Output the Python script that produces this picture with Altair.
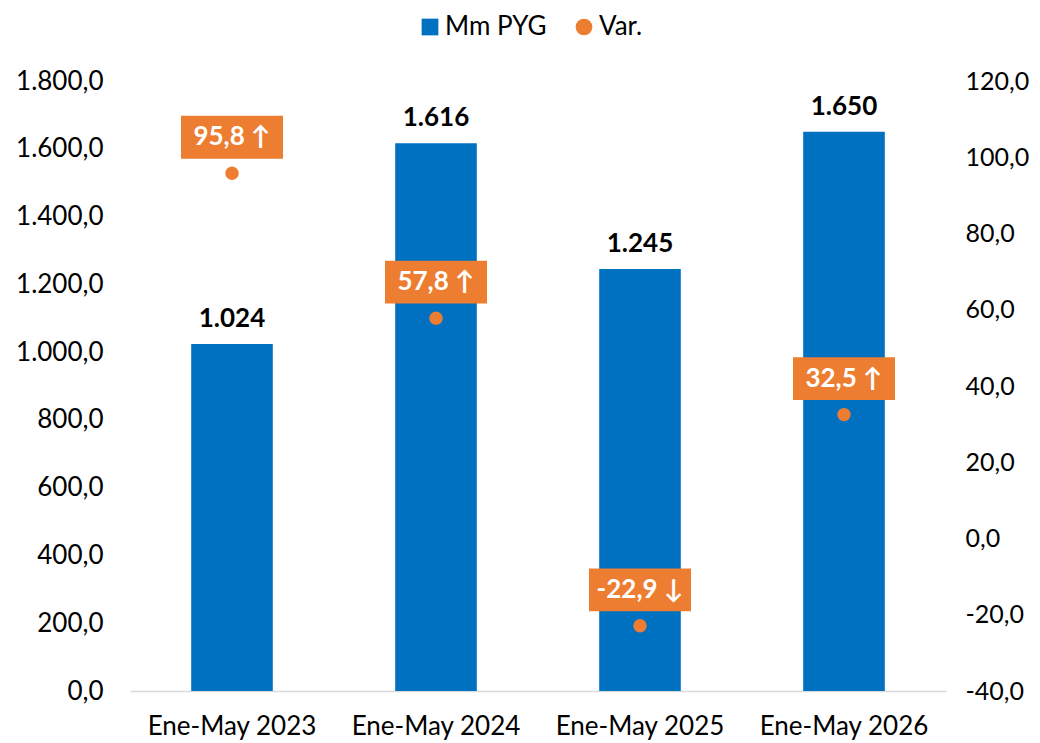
import altair as alt
import pandas as pd

categories = ["Ene-May 2023", "Ene-May 2024", "Ene-May 2025", "Ene-May 2026"]
mm_pyg = [1024, 1616, 1245, 1650]
var_pct = [95.8, 57.8, -22.9, 32.5]

BLUE = "#0070C0"
ORANGE = "#ED7D31"
FONT = "Lato"
FS = 26


def es_int(v):
    return f"{v:,.0f}".replace(",", ".")


def es_dec(v):
    return f"{v:.1f}".replace(".", ",")


df = pd.DataFrame({
    "cat": categories,
    "mm": mm_pyg,
    "var": var_pct,
    "mm_lbl": [es_int(v) for v in mm_pyg],
    "var_lbl": [es_dec(v) + (" ↑" if v >= 0 else " ↓") for v in var_pct],
    "serie": ["Var."] * len(categories),
})

label_expr = ("replace(replace(replace(replace(format(datum.value, ',.1f'), ',', '#'), '.', ','), '#', '.'), '\u2212', '-')")

x_enc = alt.X("cat:N", sort=categories, title=None,
              scale=alt.Scale(paddingInner=0.6, paddingOuter=0.3),
              axis=alt.Axis(labelAngle=0, labelFontSize=FS, labelColor="#000000",
                            domainColor="#D9D9D9", domainWidth=1.5, ticks=False,
                            labelPadding=22, labelFont=FONT))

y_left = alt.Y("mm:Q", title=None,
               scale=alt.Scale(domain=[0, 1800], nice=False),
               axis=alt.Axis(orient="left", values=list(range(0, 1801, 200)),
                             labelExpr=label_expr, grid=False, domain=False, ticks=False,
                             labelFontSize=FS, labelColor="#000000", labelPadding=27,
                             labelFont=FONT))

y_right = alt.Y("var:Q", title=None,
                scale=alt.Scale(domain=[-40, 120], nice=False),
                axis=alt.Axis(orient="right", values=list(range(-40, 121, 20)),
                              labelExpr=label_expr, grid=False, domain=False, ticks=False,
                              labelFontSize=25, labelColor="#000000", labelPadding=19,
                              labelFont=FONT))

base = alt.Chart(df)

bars = base.mark_bar(color=BLUE).encode(x=x_enc, y=y_left)
bar_text = base.mark_text(font=FONT, fontSize=FS, fontWeight="bold", color="#000000",
                          baseline="bottom", dy=-12).encode(x=x_enc, y=y_left, text="mm_lbl:N")
left = alt.layer(bars, bar_text)

pts = base.mark_point(filled=True, size=180, opacity=1).encode(
    x=x_enc, y=y_right,
    color=alt.Color("serie:N", title=None,
                    scale=alt.Scale(domain=["Mm PYG", "Var."], range=[BLUE, ORANGE]),
                    legend=alt.Legend(orient="none", direction="horizontal",
                                      legendX=287, legendY=-67, labelFontSize=FS,
                                      labelFont=FONT, labelColor="#000000",
                                      symbolSize=280, columnPadding=24, labelOffset=2,
                                      symbolStrokeWidth=0)),
    shape=alt.Shape("serie:N", title=None,
                    scale=alt.Scale(domain=["Mm PYG", "Var."], range=["square", "circle"])),
)
box = base.mark_point(filled=True, opacity=1, color=ORANGE, strokeWidth=0,
                      shape="M-1,-0.42L1,-0.42L1,0.42L-1,0.42Z", size=10404,
                      yOffset=-36).encode(x=x_enc, y=y_right)
box_text = base.mark_text(font=FONT, fontSize=FS, fontWeight="bold", color="#FFFFFF",
                          dy=-36).encode(x=x_enc, y=y_right, text="var_lbl:N")
right = alt.layer(pts, box, box_text)

chart = alt.layer(left, right).resolve_scale(y="independent").properties(
    width=816, height=610,
    autosize=alt.AutoSizeParams(type="none"),
    padding={"left": 122, "top": 73, "right": 86, "bottom": 52},
).configure_view(stroke=None)

chart.save("out.html", embed_options={"renderer": "svg", "actions": False})
